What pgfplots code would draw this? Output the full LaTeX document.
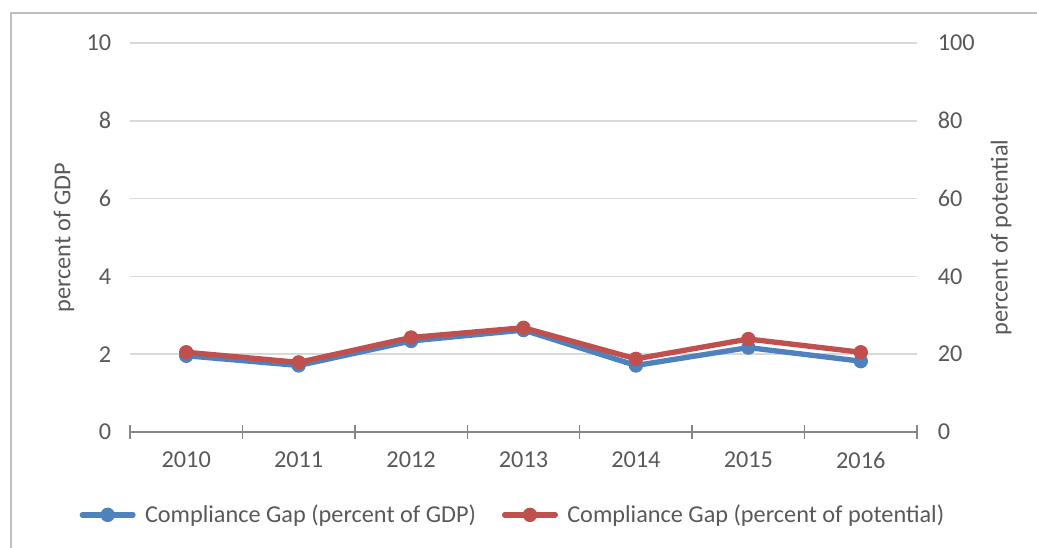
\documentclass[border=0pt]{standalone}
\usepackage{pgfplots}
\pgfplotsset{compat=1.18}
\usepackage{fontspec}
\setmainfont{Carlito}
\definecolor{gdpblue}{HTML}{4F81BD}
\definecolor{potred}{HTML}{C0504D}
\definecolor{txt}{HTML}{595959}
\definecolor{gridc}{HTML}{D9D9D9}
\definecolor{axc}{HTML}{868686}
\definecolor{framec}{HTML}{BFBFBF}
\newcommand{\cf}{\fontsize{18.2pt}{21pt}\selectfont}
\begin{document}
\begin{tikzpicture}[font=\cf]
\useasboundingbox (0,0) rectangle (777.75pt,411pt);
\draw[framec, line width=0.9pt] (8.25pt,0) -- (8.25pt,401.25pt) -- (777.75pt,401.25pt);
\pgfplotsset{
  common/.style={
    scale only axis, width=590.25pt, height=291.75pt,
    at={(97.5pt,87pt)}, anchor=south west,
    xmin=-0.5, xmax=6.5,
    /pgf/number format/assume math mode=true,
    tick label style={font=\cf, text=txt},
    major tick length=0pt,
  },
  lineplot/.style={line width=4pt, line join=round, line cap=round, mark=*, mark size=5pt, mark options={line width=0.75pt}},
}
\begin{axis}[common,
  ymin=0, ymax=10, ytick={0,2,...,10},
  axis x line*=bottom, x axis line style={axc, line width=1.1pt, -},
  axis y line*=left, y axis line style={draw=none},
  xtick={0,...,6}, xticklabels={2010,2011,2012,2013,2014,2015,2016},
  xticklabel style={yshift=-11.3pt},
  yticklabel style={xshift=-10.6pt},
  extra x ticks={-0.5,0.5,...,6.5}, extra x tick labels={},
  extra tick style={grid=none, major tick length=10.5pt, tick align=center, tick style={axc, line width=1.1pt}},
  ymajorgrids, grid style={gridc, line width=1.1pt},
  ylabel={percent of GDP},
  every axis y label/.style={at={(axis description cs:-0.0839,0.5)}, rotate=90, anchor=center, font=\cf, text=txt},
]
\addplot[gdpblue, lineplot] coordinates {(0,1.96) (1,1.71) (2,2.34) (3,2.62) (4,1.71) (5,2.17) (6,1.82)};
\end{axis}
\begin{axis}[common,
  ymin=0, ymax=100, ytick={0,20,...,100},
  axis x line=none,
  axis y line*=right, y axis line style={draw=none},
  yticklabel style={xshift=12.1pt},
  ylabel={percent of potential},
  every axis y label/.style={at={(axis description cs:1.107,0.5)}, rotate=90, anchor=center, font=\cf, text=txt},
  legend columns=2,
  legend style={draw=none, fill=none, at={(0.487,-0.213)}, anchor=center, font=\cf, text=txt,
    /tikz/every odd column/.append style={column sep=5pt},
    /tikz/every even column/.append style={column sep=17.5pt}},
  legend cell align=left,
  legend image code/.code={\draw[#1, mark repeat=2, mark phase=2] plot coordinates {(0pt,0pt) (19pt,0pt) (38pt,0pt)};},
]
\addlegendimage{gdpblue, lineplot}
\addlegendentry{Compliance Gap (percent of GDP)}
\addplot[potred, lineplot] coordinates {(0,20.5) (1,17.9) (2,24.3) (3,26.8) (4,18.8) (5,23.9) (6,20.5)};
\addlegendentry{Compliance Gap (percent of potential)}
\end{axis}
\end{tikzpicture}
\end{document}
